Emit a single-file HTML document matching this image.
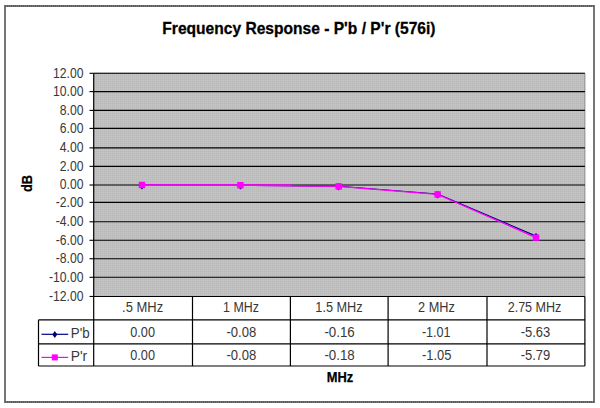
<!DOCTYPE html><html><head><meta charset="utf-8"><style>
html,body{margin:0;padding:0;background:#fff;width:600px;height:408px;overflow:hidden}
svg{display:block}
text{font-family:"Liberation Sans",sans-serif}
</style></head><body>
<svg width="600" height="408" viewBox="0 0 600 408">
<defs><pattern id="dp" x="1" y="0" width="2" height="2" patternUnits="userSpaceOnUse"><rect width="2" height="2" fill="#bcbcbc"/><rect width="1" height="1" fill="#c8c8c8"/></pattern></defs>
<rect x="5" y="6" width="589" height="396" fill="#fff" stroke="#767676" stroke-width="2"/>
<path d="M5 6H594M5 402H594" stroke="#5c5c5c" stroke-width="2" stroke-dasharray="1 1"/>
<rect x="93.7" y="73.3" width="491.20" height="223.15" fill="url(#dp)"/>
<path d="M93.7 73.3H584.9V296.45" fill="none" stroke="#8c8c8c" stroke-width="1"/>
<line x1="93.7" y1="73.3" x2="584.9" y2="73.3" stroke="#000" stroke-width="1.1"/>
<line x1="93.7" y1="91.6" x2="584.9" y2="91.6" stroke="#000" stroke-width="1.1"/>
<line x1="93.7" y1="110.4" x2="584.9" y2="110.4" stroke="#000" stroke-width="1.1"/>
<line x1="93.7" y1="128.4" x2="584.9" y2="128.4" stroke="#000" stroke-width="1.1"/>
<line x1="93.7" y1="147.9" x2="584.9" y2="147.9" stroke="#000" stroke-width="1.1"/>
<line x1="93.7" y1="166.35" x2="584.9" y2="166.35" stroke="#000" stroke-width="1.1"/>
<line x1="93.7" y1="185.0" x2="584.9" y2="185.0" stroke="#000" stroke-width="1.1"/>
<line x1="93.7" y1="202.35" x2="584.9" y2="202.35" stroke="#000" stroke-width="1.1"/>
<line x1="93.7" y1="221.8" x2="584.9" y2="221.8" stroke="#000" stroke-width="1.1"/>
<line x1="93.7" y1="240.3" x2="584.9" y2="240.3" stroke="#000" stroke-width="1.1"/>
<line x1="93.7" y1="258.75" x2="584.9" y2="258.75" stroke="#000" stroke-width="1.1"/>
<line x1="93.7" y1="277.3" x2="584.9" y2="277.3" stroke="#000" stroke-width="1.1"/>
<line x1="93.7" y1="296.45" x2="584.9" y2="296.45" stroke="#000" stroke-width="1.1"/>
<line x1="93.7" y1="73.3" x2="93.7" y2="366.0" stroke="#000" stroke-width="1.2"/>
<line x1="89.5" y1="73.3" x2="93.7" y2="73.3" stroke="#000" stroke-width="1.1"/>
<line x1="89.5" y1="91.6" x2="93.7" y2="91.6" stroke="#000" stroke-width="1.1"/>
<line x1="89.5" y1="110.4" x2="93.7" y2="110.4" stroke="#000" stroke-width="1.1"/>
<line x1="89.5" y1="128.4" x2="93.7" y2="128.4" stroke="#000" stroke-width="1.1"/>
<line x1="89.5" y1="147.9" x2="93.7" y2="147.9" stroke="#000" stroke-width="1.1"/>
<line x1="89.5" y1="166.35" x2="93.7" y2="166.35" stroke="#000" stroke-width="1.1"/>
<line x1="89.5" y1="185.0" x2="93.7" y2="185.0" stroke="#000" stroke-width="1.1"/>
<line x1="89.5" y1="202.35" x2="93.7" y2="202.35" stroke="#000" stroke-width="1.1"/>
<line x1="89.5" y1="221.8" x2="93.7" y2="221.8" stroke="#000" stroke-width="1.1"/>
<line x1="89.5" y1="240.3" x2="93.7" y2="240.3" stroke="#000" stroke-width="1.1"/>
<line x1="89.5" y1="258.75" x2="93.7" y2="258.75" stroke="#000" stroke-width="1.1"/>
<line x1="89.5" y1="277.3" x2="93.7" y2="277.3" stroke="#000" stroke-width="1.1"/>
<line x1="89.5" y1="296.45" x2="93.7" y2="296.45" stroke="#000" stroke-width="1.1"/>
<line x1="192.5" y1="296.45" x2="192.5" y2="366.0" stroke="#000" stroke-width="1.2"/>
<line x1="290.4" y1="296.45" x2="290.4" y2="366.0" stroke="#000" stroke-width="1.2"/>
<line x1="388.1" y1="296.45" x2="388.1" y2="366.0" stroke="#000" stroke-width="1.2"/>
<line x1="487.0" y1="296.45" x2="487.0" y2="366.0" stroke="#000" stroke-width="1.2"/>
<line x1="584.9" y1="296.45" x2="584.9" y2="366.0" stroke="#000" stroke-width="1.2"/>
<line x1="38.5" y1="319.86" x2="584.9" y2="319.86" stroke="#000" stroke-width="1.2"/>
<line x1="38.5" y1="343.8" x2="584.9" y2="343.8" stroke="#000" stroke-width="1.2"/>
<line x1="38.5" y1="366.0" x2="584.9" y2="366.0" stroke="#000" stroke-width="1.2"/>
<line x1="38.5" y1="319.86" x2="38.5" y2="366.0" stroke="#000" stroke-width="1.2"/>
<polyline points="142.00,185.00 240.40,185.20 338.70,186.20 437.60,194.00 536.00,236.10" fill="none" stroke="#000080" stroke-width="1.15"/>
<path d="M142.00 181.80L145.40 185.60L142.00 189.40L138.60 185.60Z" fill="#000080"/>
<path d="M240.40 182.00L243.80 185.80L240.40 189.60L237.00 185.80Z" fill="#000080"/>
<path d="M338.70 183.00L342.10 186.80L338.70 190.60L335.30 186.80Z" fill="#000080"/>
<path d="M437.60 190.80L441.00 194.60L437.60 198.40L434.20 194.60Z" fill="#000080"/>
<path d="M536.00 232.90L539.40 236.70L536.00 240.50L532.60 236.70Z" fill="#000080"/>
<polyline points="142.00,185.00 240.40,185.20 338.70,186.40 437.60,194.40 536.00,237.60" fill="none" stroke="#ff00ff" stroke-width="1.25"/>
<line x1="142.0" y1="185.1" x2="291" y2="185.1" stroke="#ff00ff" stroke-width="1.9"/>
<rect x="138.80" y="181.80" width="6.4" height="6.4" fill="#ff00ff"/>
<rect x="237.20" y="182.00" width="6.4" height="6.4" fill="#ff00ff"/>
<rect x="335.50" y="183.20" width="6.4" height="6.4" fill="#ff00ff"/>
<rect x="434.40" y="191.20" width="6.4" height="6.4" fill="#ff00ff"/>
<rect x="532.80" y="234.40" width="6.4" height="6.4" fill="#ff00ff"/>
<line x1="41.5" y1="334.3" x2="68.2" y2="334.3" stroke="#000080" stroke-width="1.2"/>
<path d="M54.8 331L57.3 334.5L54.8 338L52.3 334.5Z" fill="#000080"/>
<line x1="41.5" y1="357.4" x2="68.2" y2="357.4" stroke="#ff00ff" stroke-width="1.2"/>
<rect x="51.8" y="354.4" width="6" height="6" fill="#ff00ff"/>
<text x="162.30" y="33.80" font-size="17.3" font-weight="bold" stroke="#000" stroke-width="0.3" fill="#000" textLength="273.22" lengthAdjust="spacingAndGlyphs">Frequency Response - P&#39;b / P&#39;r (576i)</text>
<text x="52.98" y="77.60" font-size="14.0" fill="#383838" textLength="30.48" lengthAdjust="spacingAndGlyphs">12.00</text>
<text x="52.98" y="95.90" font-size="14.0" fill="#383838" textLength="30.48" lengthAdjust="spacingAndGlyphs">10.00</text>
<text x="59.77" y="114.70" font-size="14.0" fill="#383838" textLength="23.71" lengthAdjust="spacingAndGlyphs">8.00</text>
<text x="59.77" y="132.70" font-size="14.0" fill="#383838" textLength="23.71" lengthAdjust="spacingAndGlyphs">6.00</text>
<text x="59.77" y="152.20" font-size="14.0" fill="#383838" textLength="23.71" lengthAdjust="spacingAndGlyphs">4.00</text>
<text x="59.77" y="170.65" font-size="14.0" fill="#383838" textLength="23.71" lengthAdjust="spacingAndGlyphs">2.00</text>
<text x="59.77" y="189.30" font-size="14.0" fill="#383838" textLength="23.71" lengthAdjust="spacingAndGlyphs">0.00</text>
<text x="55.72" y="206.65" font-size="14.0" fill="#383838" textLength="27.76" lengthAdjust="spacingAndGlyphs">-2.00</text>
<text x="55.72" y="226.10" font-size="14.0" fill="#383838" textLength="27.76" lengthAdjust="spacingAndGlyphs">-4.00</text>
<text x="55.72" y="244.60" font-size="14.0" fill="#383838" textLength="27.76" lengthAdjust="spacingAndGlyphs">-6.00</text>
<text x="55.72" y="263.05" font-size="14.0" fill="#383838" textLength="27.76" lengthAdjust="spacingAndGlyphs">-8.00</text>
<text x="48.93" y="281.60" font-size="14.0" fill="#383838" textLength="34.54" lengthAdjust="spacingAndGlyphs">-10.00</text>
<text x="48.93" y="300.75" font-size="14.0" fill="#383838" textLength="34.54" lengthAdjust="spacingAndGlyphs">-12.00</text>
<g transform="rotate(-90)">
<text x="-192.12" y="31.60" font-size="14.1" font-weight="bold" stroke="#000" stroke-width="0.2" fill="#000" textLength="17.20" lengthAdjust="spacingAndGlyphs">dB</text>
</g>
<text x="122.10" y="311.80" font-size="14.0" fill="#383838" textLength="41.04" lengthAdjust="spacingAndGlyphs">.5 MHz</text>
<text x="223.07" y="311.80" font-size="14.0" fill="#383838" textLength="35.84" lengthAdjust="spacingAndGlyphs">1 MHz</text>
<text x="315.35" y="311.80" font-size="14.0" fill="#383838" textLength="47.30" lengthAdjust="spacingAndGlyphs">1.5 MHz</text>
<text x="418.06" y="311.80" font-size="14.0" fill="#383838" textLength="36.76" lengthAdjust="spacingAndGlyphs">2 MHz</text>
<text x="507.67" y="311.80" font-size="14.0" fill="#383838" textLength="53.75" lengthAdjust="spacingAndGlyphs">2.75 MHz</text>
<text x="130.29" y="336.60" font-size="14.0" fill="#383838" textLength="24.70" lengthAdjust="spacingAndGlyphs">0.00</text>
<text x="226.41" y="336.60" font-size="14.0" fill="#383838" textLength="29.77" lengthAdjust="spacingAndGlyphs">-0.08</text>
<text x="324.40" y="336.60" font-size="14.0" fill="#383838" textLength="30.39" lengthAdjust="spacingAndGlyphs">-0.16</text>
<text x="421.93" y="336.60" font-size="14.0" fill="#383838" textLength="28.69" lengthAdjust="spacingAndGlyphs">-1.01</text>
<text x="520.72" y="336.60" font-size="14.0" fill="#383838" textLength="29.56" lengthAdjust="spacingAndGlyphs">-5.63</text>
<text x="130.29" y="359.70" font-size="14.0" fill="#383838" textLength="24.70" lengthAdjust="spacingAndGlyphs">0.00</text>
<text x="226.41" y="359.70" font-size="14.0" fill="#383838" textLength="29.77" lengthAdjust="spacingAndGlyphs">-0.08</text>
<text x="324.40" y="359.70" font-size="14.0" fill="#383838" textLength="30.39" lengthAdjust="spacingAndGlyphs">-0.18</text>
<text x="421.92" y="359.70" font-size="14.0" fill="#383838" textLength="29.42" lengthAdjust="spacingAndGlyphs">-1.05</text>
<text x="520.72" y="359.70" font-size="14.0" fill="#383838" textLength="29.59" lengthAdjust="spacingAndGlyphs">-5.79</text>
<text x="70.80" y="337.60" font-size="14.0" fill="#383838" textLength="18.85" lengthAdjust="spacingAndGlyphs">P&#39;b</text>
<text x="70.76" y="360.60" font-size="14.0" fill="#383838" textLength="16.46" lengthAdjust="spacingAndGlyphs">P&#39;r</text>
<text x="326.73" y="381.90" font-size="14.3" font-weight="bold" stroke="#000" stroke-width="0.25" fill="#000" textLength="26.53" lengthAdjust="spacingAndGlyphs">MHz</text>
</svg></body></html>
